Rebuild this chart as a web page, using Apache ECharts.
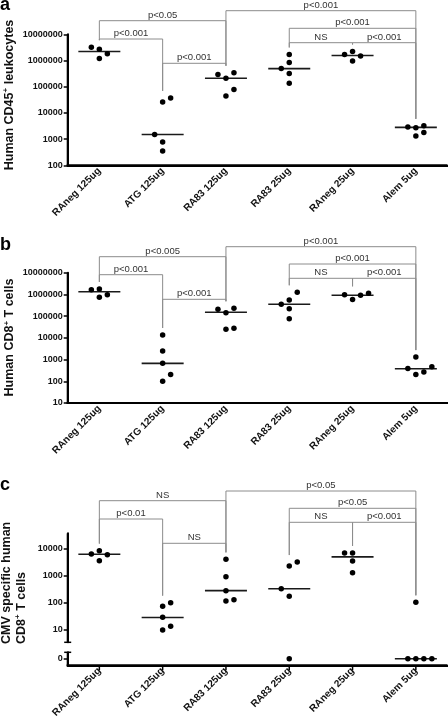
<!DOCTYPE html>
<html><head><meta charset="utf-8">
<script src="https://cdn.jsdelivr.net/npm/echarts@6/dist/echarts.min.js"></script>
<style>html,body{margin:0;padding:0;background:#fff}#c{width:448px;height:720px}</style>
</head><body><div id="c"></div>
<script>
// ---------------- DATA ----------------
const categories = ['RAneg 125ug', 'ATG 125ug', 'RA83 125ug', 'RA83 25ug', 'RAneg 25ug', 'Alem 5ug'];

// Panel a: Human CD45+ leukocytes
const cd45Values = [
  [3.2e6, 2.7e6, 1.8e6, 1.2e6],
  [2.6e4, 3.7e4, 1500, 780, 350],
  [2.9e5, 2.1e5, 3.4e5, 7.9e4, 4.4e4],
  [1.7e6, 8.3e5, 4.9e5, 3.2e5, 1.35e5],
  [1.7e6, 2.2e6, 1.5e6, 9.6e5],
  [2900, 2700, 3200, 1300, 1800]
];
const cd45Medians = [2.2e6, 1500, 2.1e5, 4.9e5, 1.55e6, 2800];
const cd45Ticks = [100, 1000, 10000, 100000, 1000000, 10000000];
const cd45Brackets = [
  ['RAneg 125ug', 'RA83 125ug', 'p<0.05'],
  ['RAneg 125ug', 'ATG 125ug', 'p<0.001'],
  ['ATG 125ug', 'RA83 125ug', 'p<0.001'],
  ['RA83 125ug', 'Alem 5ug', 'p<0.001'],
  ['RA83 25ug', 'Alem 5ug', 'p<0.001'],
  ['RA83 25ug', 'RAneg 25ug', 'NS'],
  ['RAneg 25ug', 'Alem 5ug', 'p<0.001']
];

// Panel b: Human CD8+ T cells
const cd8Values = [
  [1.65e6, 1.78e6, 7.4e5, 9.7e5],
  [1.35e4, 2500, 670, 208, 100],
  [2.05e5, 1.44e5, 2.3e5, 2.5e4, 2.8e4],
  [1.25e6, 3.5e5, 5.5e5, 2.2e5, 7.6e4],
  [9.7e5, 5.9e5, 9.1e5, 1.12e6],
  [1300, 390, 208, 265, 465]
];
const cd8Medians = [1.33e6, 670, 1.5e5, 3.5e5, 9.1e5, 380];
const cd8Ticks = [10, 100, 1000, 10000, 100000, 1000000, 10000000];
const cd8Brackets = [
  ['RAneg 125ug', 'RA83 125ug', 'p<0.005'],
  ['RAneg 125ug', 'ATG 125ug', 'p<0.001'],
  ['ATG 125ug', 'RA83 125ug', 'p<0.001'],
  ['RA83 125ug', 'Alem 5ug', 'p<0.001'],
  ['RA83 25ug', 'Alem 5ug', 'p<0.001'],
  ['RA83 25ug', 'RAneg 25ug', 'NS'],
  ['RAneg 25ug', 'Alem 5ug', 'p<0.001']
];

// Panel c: CMV specific human CD8+ T cells
const cmvValues = [
  [6200, 8200, 5800, 3500],
  [72, 97, 28, 9.4, 13],
  [3900, 890, 270, 112, 125],
  [2200, 3100, 318, 166, 0],
  [6700, 6700, 3400, 1250],
  [100, 0, 0, 0, 0]
];
const cmvMedians = [6000, 27.5, 270, 318, 4800, 0];
const cmvTicks = [10, 100, 1000, 10000];
const cmvZeroTicks = ['0'];
const cmvBrackets = [
  ['RAneg 125ug', 'RA83 125ug', 'NS'],
  ['RAneg 125ug', 'ATG 125ug', 'p<0.01'],
  ['ATG 125ug', 'RA83 125ug', 'NS'],
  ['RA83 125ug', 'Alem 5ug', 'p<0.05'],
  ['RA83 25ug', 'Alem 5ug', 'p<0.05'],
  ['RA83 25ug', 'RAneg 25ug', 'NS'],
  ['RAneg 25ug', 'Alem 5ug', 'p<0.001']
];

const titles = {
  a: 'Human CD45{sup|+} leukocytes',
  b: 'Human CD8{sup|+} T cells',
  c: 'CMV specific human\nCD8{sup|+} T cells'
};

// ---------------- LAYOUT / STYLE ----------------
const FONT = 'Liberation Sans, Arial, Helvetica, sans-serif';
const LAYOUT = {
  left: 67.7, right: 0.5,
  a: { top: 34.3, height: 131, min: 100, max: 1e7, rows: [-13.6, 4.7, 29, -23.6, -6, 8.4, 8.4], title: [9.3, 95, 'center'] },
  b: { top: 272.7, height: 130.3, min: 10, max: 1e7, rows: [-16, 2, 26.6, -26, -8.7, 5.6, 5.6], title: [10, 337.5, 'center'] },
  c: { top: 533.3, height: 109, min: 3.3, max: 36000, rows: [-32.6, -14.3, 10, -42.3, -25, -11, -11], title: [14.2, 644, 'left'], xOffset: 23 },
  cZero: { top: 652.3, height: 13 },
  jitterStep: 8,
  medianHalf: 21,
  legGap: 7,
  xTickLen: 5,
  jitter: {
    a: [[-1,0,1,0],[0,1,-1,0,0],[-1,0,1,1,0],[0,0,-1,0,0],[-1,0,1,0],[-1,0,1,0,1]],
    b: [[-1,0,0,1],[0,0,0,1,0],[-1,0,1,0,1],[1,-1,0,0,0],[-1,0,1,2],[0,-1,0,1,2]],
    c: [[-1,0,1,0],[0,1,0,0,1],[0,0,0,0,1],[0,1,-1,0,0],[-1,0,0,0],[0,-1,0,1,2]]
  }
};

const isPow10 = v => v > 0 && Math.abs(Math.log10(v) - Math.round(Math.log10(v))) < 1e-6;
const TICK_LABEL = { fontSize: 9, fontWeight: 'bold', color: '#111', margin: 5, fontFamily: FONT };

function xAxisDef(gridIndex, show, offset) {
  return {
    type: 'category', gridIndex, data: categories, boundaryGap: true, show, position: 'bottom', offset: offset || 0,
    axisLine: { show: true, onZero: false, lineStyle: { color: '#000', width: 2 } },
    axisTick: { alignWithLabel: true, length: LAYOUT.xTickLen, lineStyle: { color: '#000', width: 1.5 } },
    axisLabel: { rotate: 45, fontSize: 10, fontWeight: 'bold', color: '#111', margin: 4, fontFamily: FONT, interval: 0 },
    splitLine: { show: false }
  };
}

function logAxisDef(gridIndex, cfg, ticks, lineSymbol) {
  return {
    type: 'log', logBase: 10, gridIndex, min: cfg.min, max: cfg.max,
    axisLine: { show: true, lineStyle: { color: '#000', width: 2 }, symbol: lineSymbol || 'none', symbolSize: [7, 1.5] },
    axisTick: { show: true, length: 4, customValues: ticks, lineStyle: { color: '#000', width: 1.5 } },
    axisLabel: Object.assign({ customValues: ticks, formatter: v => isPow10(v) ? String(Math.round(v)) : '' }, TICK_LABEL),
    splitLine: { show: false }, minorTick: { show: false }
  };
}

function scatterSeries(gridIndex, values, jitter, pred) {
  const data = [];
  values.forEach((grp, i) => grp.forEach((v, j) => {
    if (pred(v)) data.push({ value: [i, v], symbolOffset: [jitter[i][j] * LAYOUT.jitterStep, 0] });
  }));
  return { type: 'scatter', xAxisIndex: gridIndex, yAxisIndex: gridIndex, data, symbolSize: 5.5,
    itemStyle: { color: '#000', opacity: 1 }, z: 4, silent: true, clip: false };
}

function medianSeries(gridIndex, medians, pred) {
  const data = [];
  medians.forEach((m, i) => { if (pred(m)) data.push([i, m]); });
  return {
    type: 'custom', xAxisIndex: gridIndex, yAxisIndex: gridIndex, data, silent: true, clip: false, z: 3,
    renderItem(params, api) {
      const p = api.coord([api.value(0), api.value(1)]);
      return { type: 'line', shape: { x1: p[0] - LAYOUT.medianHalf, y1: p[1], x2: p[0] + LAYOUT.medianHalf, y2: p[1] },
        style: { stroke: '#1a1a1a', lineWidth: 1.6 } };
    }
  };
}

// axis frame (left line, optional bottom line with category ticks) drawn from the grid rect
function frameSeries(gridIndex, refValue, withBottom, withTicks) {
  return {
    type: 'custom', xAxisIndex: gridIndex, yAxisIndex: gridIndex, data: [[0, refValue]], silent: true, clip: false, z: 6,
    renderItem(params, api) {
      const cs = params.coordSys;
      const bottom = cs.y + cs.height;
      const st = { stroke: '#000', lineWidth: 2 };
      const children = [{ type: 'line', shape: { x1: cs.x, y1: cs.y, x2: cs.x, y2: bottom + (withBottom ? 1 : 0) }, style: st }];
      if (withBottom) {
        children.push({ type: 'line', shape: { x1: cs.x - 1, y1: bottom, x2: cs.x + cs.width, y2: bottom }, style: st });
      }
      if (withTicks) {
        categories.forEach((c, i) => {
          const x = api.coord([i, refValue])[0];
          children.push({ type: 'line', shape: { x1: x, y1: bottom, x2: x, y2: bottom + LAYOUT.xTickLen },
            style: { stroke: '#000', lineWidth: 1.5 } });
        });
      }
      return { type: 'group', children };
    }
  };
}

function bracketSeries(gridIndex, brackets, rows, values) {
  const groupMax = values.map(g => Math.max.apply(null, g.filter(v => v > 0)));
  const data = brackets.map((b, k) => {
    const i0 = categories.indexOf(b[0]);
    return [i0, groupMax[i0], categories.indexOf(b[1]), k];
  });
  return {
    type: 'custom', xAxisIndex: gridIndex, yAxisIndex: gridIndex, data, silent: true, clip: false, z: 2,
    renderItem(params, api) {
      const k = api.value(3);
      const i0 = api.value(0), i1 = api.value(2);
      const x1 = api.coord([i0, groupMax[i0]])[0];
      const x2 = api.coord([i1, groupMax[i1]])[0];
      const y = params.coordSys.y + rows[k];
      const l1 = Math.max(y, api.coord([i0, groupMax[i0]])[1] - LAYOUT.legGap);
      const l2 = Math.max(y, api.coord([i1, groupMax[i1]])[1] - LAYOUT.legGap);
      const st = { stroke: '#8c8c8c', lineWidth: 1 };
      return { type: 'group', children: [
        { type: 'line', shape: { x1, y1: y, x2, y2: y }, style: st },
        { type: 'line', shape: { x1, y1: y, x2: x1, y2: l1 }, style: st },
        { type: 'line', shape: { x1: x2, y1: y, x2, y2: l2 }, style: st },
        { type: 'text', x: (x1 + x2) / 2, y: y - 0.5,
          style: { text: brackets[k][2], fill: '#333', font: '9.5px ' + FONT, align: 'center', verticalAlign: 'bottom' } }
      ] };
    }
  };
}

function titleGraphic(key) {
  const t = LAYOUT[key].title;
  return {
    type: 'text', x: t[0], y: t[1], rotation: Math.PI / 2, silent: true,
    style: {
      text: titles[key], align: t[2], verticalAlign: 'middle',
      fontSize: 12.5, fontWeight: 'bold', fontFamily: FONT, fill: '#111', lineHeight: 15,
      rich: { sup: { fontSize: 8, fontWeight: 'bold', fontFamily: FONT, fill: '#111', verticalAlign: 'top', lineHeight: 15, padding: [0, 0, 5, 0] } }
    }
  };
}

function gridDef(cfg) {
  return { left: LAYOUT.left, right: LAYOUT.right, top: cfg.top, height: cfg.height,
    containLabel: false, outerBoundsMode: 'none' };
}

const option = {
  animation: false,
  backgroundColor: '#fff',
  textStyle: { fontFamily: FONT },
  grid: [gridDef(LAYOUT.a), gridDef(LAYOUT.b), gridDef(LAYOUT.c), gridDef(LAYOUT.cZero)],
  xAxis: [xAxisDef(0, true), xAxisDef(1, true), xAxisDef(2, true, LAYOUT.c.xOffset), xAxisDef(3, false)],
  yAxis: [
    logAxisDef(0, LAYOUT.a, cd45Ticks),
    logAxisDef(1, LAYOUT.b, cd8Ticks),
    logAxisDef(2, LAYOUT.c, cmvTicks, ['rect', 'none']),
    {
      type: 'category', gridIndex: 3, data: cmvZeroTicks, boundaryGap: true,
      axisLine: { show: true, onZero: false, lineStyle: { color: '#000', width: 2 }, symbol: ['none', 'rect'], symbolSize: [7, 1.5] },
      axisTick: { show: true, alignWithLabel: true, length: 4, lineStyle: { color: '#000', width: 1.5 } },
      axisLabel: Object.assign({ interval: 0 }, TICK_LABEL),
      splitLine: { show: false }
    }
  ],
  series: [
    scatterSeries(0, cd45Values, LAYOUT.jitter.a, v => v > 0),
    medianSeries(0, cd45Medians, v => v > 0),
    bracketSeries(0, cd45Brackets, LAYOUT.a.rows, cd45Values),
    frameSeries(0, LAYOUT.a.max, true, false),
    scatterSeries(1, cd8Values, LAYOUT.jitter.b, v => v > 0),
    medianSeries(1, cd8Medians, v => v > 0),
    bracketSeries(1, cd8Brackets, LAYOUT.b.rows, cd8Values),
    frameSeries(1, LAYOUT.b.max, true, false),
    scatterSeries(2, cmvValues, LAYOUT.jitter.c, v => v > 0),
    medianSeries(2, cmvMedians, v => v > 0),
    bracketSeries(2, cmvBrackets, LAYOUT.c.rows, cmvValues),
    frameSeries(2, LAYOUT.c.max, false, false),
    scatterSeries(3, cmvValues, LAYOUT.jitter.c, v => v === 0),
    medianSeries(3, cmvMedians, v => v === 0),
    frameSeries(3, 0, true, true)
  ],
  graphic: [
    { type: 'text', x: 0, y: 5, style: { text: 'a', font: 'bold 18px ' + FONT, fill: '#000', verticalAlign: 'middle' } },
    { type: 'text', x: 0, y: 245, style: { text: 'b', font: 'bold 18px ' + FONT, fill: '#000', verticalAlign: 'middle' } },
    { type: 'text', x: 0, y: 485, style: { text: 'c', font: 'bold 18px ' + FONT, fill: '#000', verticalAlign: 'middle' } },
    titleGraphic('a'), titleGraphic('b'), titleGraphic('c')
  ]
};

const chart = echarts.init(document.getElementById('c'), null, { renderer: 'canvas', width: 448, height: 720 });
chart.setOption(option);
</script>
</body></html>
